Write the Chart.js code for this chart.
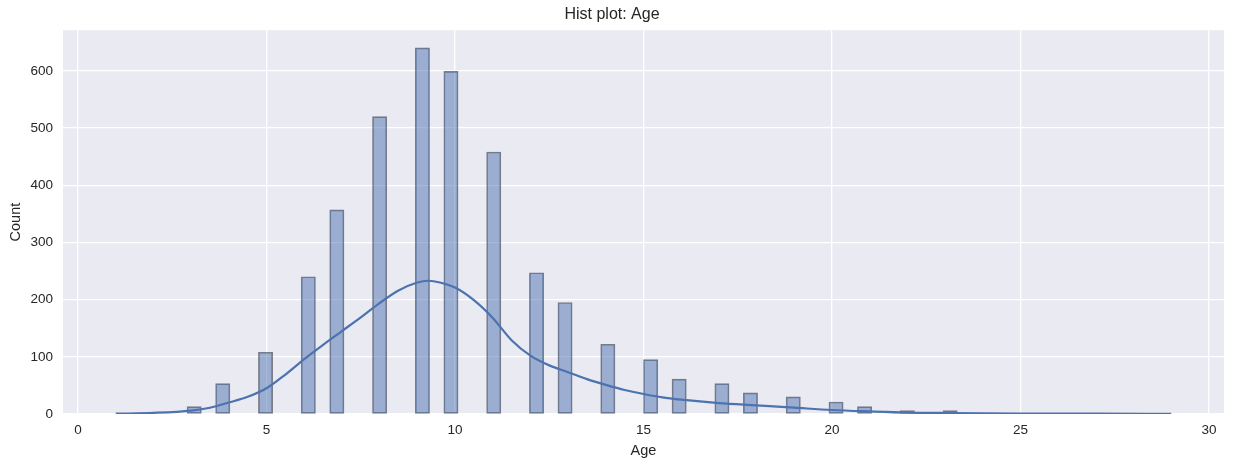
<!DOCTYPE html>
<html>
<head>
<meta charset="utf-8">
<title>Hist plot: Age</title>
<script src="https://cdn.jsdelivr.net/npm/chart.js@4.4.1/dist/chart.umd.min.js"></script>
<style>
  html, body { margin: 0; padding: 0; background: #fff; }
  #wrap { width: 1235px; height: 468px; }
</style>
</head>
<body>
<div id="wrap"><canvas id="histChart" width="1235" height="468"></canvas></div>
<script>
// Ages seen in the data and how many rows have each age
const ages   = [3, 4, 5, 6, 7, 8, 9, 10, 11, 12, 13, 14, 15, 16, 17, 18, 19, 20, 21, 22, 23];
const counts = [13, 53, 108, 240, 357, 520, 640, 599, 458, 247, 195, 122, 95, 61, 53, 37, 30, 21, 13, 6, 6];

// Histogram bins (seaborn auto bins over the 1..29 range)
const binStart = 1;
const binEnd = 29;
const binCount = 74;

// KDE curve, scaled to counts
const kdeX = [1, 2, 3, 3.5, 4, 4.5, 5, 5.5, 6, 6.5, 7, 7.5, 8, 8.5, 9, 9.3, 9.6, 10, 10.5, 11, 11.5, 12, 12.5, 13, 13.5, 14, 14.5, 15, 15.5, 16, 17, 18, 19, 20, 21, 22, 23, 24, 25, 27, 29];
const kdeY = [0.5, 2, 6, 11, 20, 30, 45, 69, 96, 121, 145, 169, 194, 216, 230, 233, 230, 221, 199, 168, 129, 102, 85, 73, 61, 51, 42, 35, 29, 25, 19, 15, 11, 7, 4.5, 2.5, 1.8, 1.2, 0.8, 0.5, 0.4];

// Axis ticks
const xTicks = [0, 5, 10, 15, 20, 25, 30];
const yTicks = [0, 100, 200, 300, 400, 500, 600];

// Build histogram bars
const binWidth = (binEnd - binStart) / binCount;
const binTotals = new Array(binCount).fill(0);
ages.forEach((a, i) => {
  let k = Math.floor((a - binStart) / binWidth);
  if (k >= binCount) k = binCount - 1;
  binTotals[k] += counts[i];
});
const histData = binTotals.map((c, k) => ({ x: binStart + (k + 0.5) * binWidth, y: c }));
const kdeData = kdeX.map((x, i) => ({ x: x, y: kdeY[i] }));

const textColor = '#262626';
const font = 'Liberation Sans, Arial, sans-serif';

// Seaborn-like dark grid background
const plotBg = {
  id: 'plotBg',
  beforeDraw(chart) {
    const { ctx, chartArea: a } = chart;
    ctx.save();
    ctx.fillStyle = '#EAEAF2';
    ctx.fillRect(a.left, a.top, a.right - a.left, a.bottom - a.top);
    ctx.restore();
  }
};

new Chart(document.getElementById('histChart').getContext('2d'), {
  type: 'bar',
  data: {
    datasets: [
      {
        type: 'line',
        label: 'kde',
        data: kdeData,
        borderColor: '#4C72B0',
        borderWidth: 2.2,
        pointRadius: 0,
        fill: false,
        cubicInterpolationMode: 'monotone',
        order: 0
      },
      {
        type: 'bar',
        label: 'Age',
        data: histData,
        backgroundColor: 'rgba(76, 114, 176, 0.5)',
        borderColor: 'rgba(60, 66, 80, 0.65)',
        borderWidth: 1,
        borderSkipped: false,
        barPercentage: 1,
        categoryPercentage: 1,
        order: 1
      }
    ]
  },
  options: {
    responsive: false,
    animation: false,
    devicePixelRatio: 1,
    layout: { padding: { left: 0, right: 11, top: 0, bottom: 0 } },
    plugins: {
      legend: { display: false },
      tooltip: { enabled: false },
      title: {
        display: true,
        text: 'Hist plot: Age',
        color: textColor,
        font: { family: font, size: 16, weight: 'normal' },
        padding: { top: 5, bottom: 6 }
      }
    },
    scales: {
      x: {
        type: 'linear',
        min: -0.4,
        max: 30.4,
        offset: false,
        afterFit: s => { s.height = 54; },
        afterBuildTicks: s => { s.ticks = xTicks.map(v => ({ value: v })); },
        ticks: { color: textColor, font: { family: font, size: 13.5 }, padding: 8, maxRotation: 0 },
        grid: { color: '#ffffff', lineWidth: 1.3, drawTicks: false, offset: false },
        border: { display: false },
        title: {
          display: true,
          text: 'Age',
          color: textColor,
          font: { family: font, size: 14.5 },
          padding: { top: 0, bottom: 8 }
        }
      },
      y: {
        min: 0,
        max: 671,
        afterFit: s => { s.width = 63; },
        afterBuildTicks: s => { s.ticks = yTicks.map(v => ({ value: v })); },
        ticks: { color: textColor, font: { family: font, size: 13.5 }, padding: 10 },
        grid: { color: '#ffffff', lineWidth: 1.3, drawTicks: false },
        border: { display: false },
        title: {
          display: true,
          text: 'Count',
          color: textColor,
          font: { family: font, size: 14.5 },
          padding: { top: 7, bottom: 0 }
        }
      }
    }
  },
  plugins: [plotBg]
});
</script>
</body>
</html>
